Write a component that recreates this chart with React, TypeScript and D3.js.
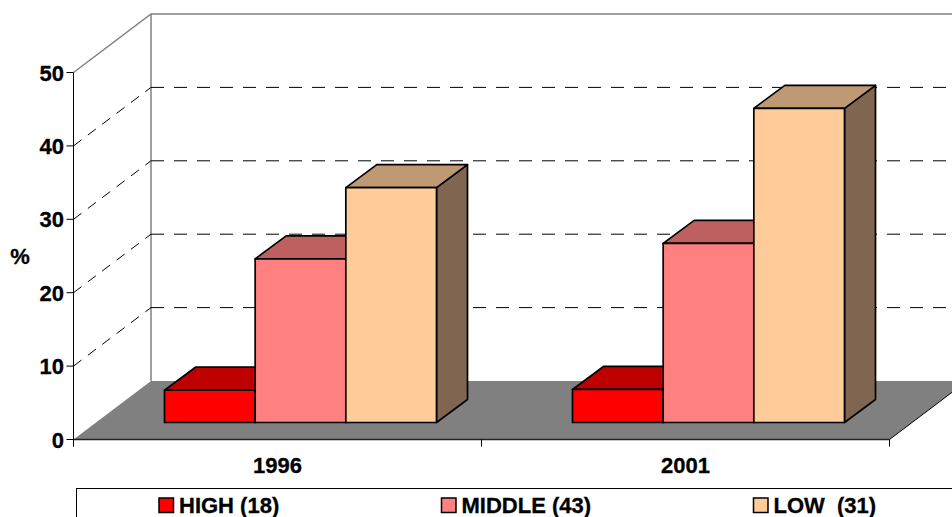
import React from "react";
import * as d3 from "d3";

const years = ["1996", "2001"];
const groups = ["HIGH (18)", "MIDDLE (43)", "LOW  (31)"];
const high = [4.4, 4.5];
const middle = [22.3, 24.4];
const low = [32, 42.8];
const seriesValues = [high, middle, low];
const yTicks = [0, 10, 20, 30, 40, 50];
const gridTicks = [10, 20, 30, 40];

const frontColors = ["#ff0000", "#ff8080", "#ffcc99"];
const topColors = ["#bf0000", "#bf6060", "#bf9973"];
const sideColors = ["#800000", "#804040", "#806650"];
const legendSwatchX = [159, 441.5, 753.5];

const W = 952;
const H = 517;
const FONT = "'Liberation Sans', Arial, sans-serif";

// front plane of the box
const x0 = d3.scaleBand<string>().domain(years).range([73.5, 889.5]).paddingInner(0).paddingOuter(0);
const y = d3.scaleLinear().domain([0, 50]).range([439.5, 72.5]);

// oblique offsets for the depth of the box and of the bars
const depthX = 77.5;
const depthY = -58.5;
const barInsetX = 23;
const barInsetY = -17;
const barDepthX = 31;
const barDepthY = -23;

// gap width 150% of a bar, split on both sides of the group
const x1 = d3
  .scaleBand<number>()
  .domain([0, 1, 2])
  .range([0, x0.bandwidth()])
  .paddingOuter(0.75)
  .paddingInner(0);

const poly = (pts: number[][]) => d3.line()(pts as [number, number][]) + "Z";

function Bar({ year, series, value }: { year: string; series: number; value: number }) {
  const left = x0(year)! + x1(series)! + barInsetX;
  const right = left + x1.bandwidth();
  const base = y(0) + barInsetY;
  const top = base - (y(0) - y(value));
  const dx = barDepthX;
  const dy = barDepthY;
  return (
    <g stroke="#000" strokeWidth={1.7} strokeLinejoin="round">
      <path
        d={poly([[right, base], [right + dx, base + dy], [right + dx, top + dy], [right, top]])}
        fill={sideColors[series]}
      />
      <path
        d={poly([[left, top], [left + dx, top + dy], [right + dx, top + dy], [right, top]])}
        fill={topColors[series]}
      />
      <rect x={left} y={top} width={right - left} height={base - top} fill={frontColors[series]} />
    </g>
  );
}

export default function App() {
  const xL = x0.range()[0];
  const xR = x0.range()[1];
  const y0 = y(0);
  const yTop = y(50);
  const backX = xL + depthX;
  const tickX = [...years.map((d) => x0(d)!), xR];

  return (
    <svg
      width={W}
      height={H}
      viewBox={`0 0 ${W} ${H}`}
      style={{ position: "absolute", left: 0, top: 0, background: "#fff" }}
      fontFamily={FONT}
      fontWeight="bold"
    >
      {/* floor */}
      <path
        d={poly([[xL, y0], [backX, y0 + depthY], [xR + depthX, y0 + depthY], [xR, y0]])}
        fill="#808080"
      />

      {/* walls */}
      <path
        d={`M${xL},${yTop}L${backX},${yTop + depthY}L${W + 10},${yTop + depthY}`}
        fill="none"
        stroke="#808080"
        strokeWidth={1.5}
      />
      <line x1={backX} x2={backX} y1={yTop + depthY} y2={y0 + depthY} stroke="#808080" strokeWidth={1.5} />

      {/* gridlines */}
      {gridTicks.map((t) => (
        <g key={t} fill="none" stroke="#000" strokeWidth={1} strokeDasharray="10 8">
          <line x1={xL} y1={y(t)} x2={backX} y2={y(t) + depthY} />
          <line x1={backX} y1={y(t) + depthY} x2={W + 10} y2={y(t) + depthY} strokeDasharray="13 10" />
        </g>
      ))}

      {/* bars */}
      {years.map((year, i) =>
        seriesValues.map((vals, s) => <Bar key={year + s} year={year} series={s} value={vals[i]} />)
      )}

      {/* axes */}
      <line x1={xL} x2={xL} y1={yTop} y2={y0 + 7} stroke="#000" strokeWidth={1} />
      <line x1={xL} x2={xR} y1={y0} y2={y0} stroke="#222" strokeWidth={1.6} />
      <line x1={xR} y1={y0} x2={xR + depthX} y2={y0 + depthY} stroke="#000" strokeWidth={1} />
      {tickX.map((t) => (
        <line key={t} x1={t} x2={t} y1={y0} y2={y0 + 7} stroke="#000" strokeWidth={1} />
      ))}
      <g stroke="#000" strokeWidth={0.3}>
        {yTicks.map((t) => (
          <g key={t}>
            <line x1={xL - 7} x2={xL} y1={y(t)} y2={y(t)} stroke="#000" strokeWidth={1} />
            <text x={xL - 9.5} y={y(t) + 8} textAnchor="end" fontSize={22}>
              {t}
            </text>
          </g>
        ))}
        {years.map((year) => (
          <text key={year} x={x0(year)! + x0.bandwidth() / 2} y={473} textAnchor="middle" fontSize={22}>
            {year}
          </text>
        ))}
        <text x={20} y={264} textAnchor="middle" fontSize={22}>
          %
        </text>
      </g>

      {/* legend */}
      <rect x={76.5} y={488.5} width={W} height={60} fill="#fff" stroke="#000" strokeWidth={1} />
      {groups.map((g, i) => (
        <g key={g}>
          <rect
            x={legendSwatchX[i]}
            y={498}
            width={14.5}
            height={14.5}
            fill={frontColors[i]}
            stroke="#000"
            strokeWidth={1.5}
          />
          <text
            x={legendSwatchX[i] + 20}
            y={513}
            fontSize={22}
            stroke="#000"
            strokeWidth={0.3}
            style={{ whiteSpace: "pre" }}
          >
            {g}
          </text>
        </g>
      ))}
    </svg>
  );
}
